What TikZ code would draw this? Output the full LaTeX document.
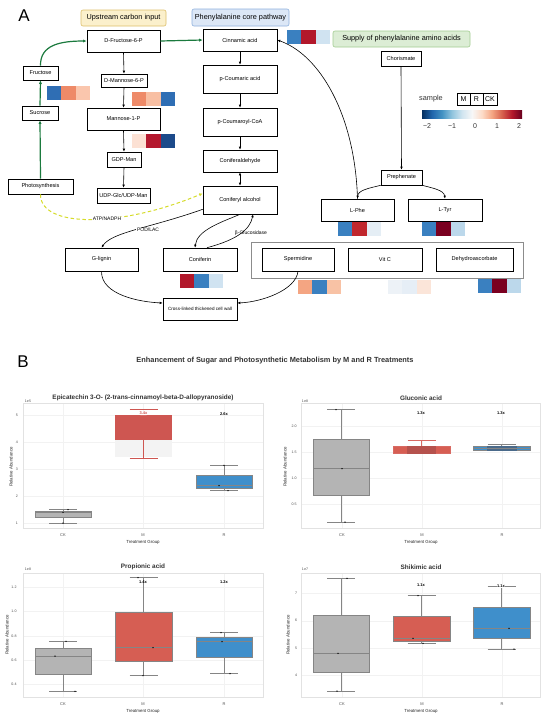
\documentclass[tikz,border=0pt]{standalone}
\usepackage{fontspec}
\setmainfont{Liberation Sans}
\usetikzlibrary{arrows.meta}
\definecolor{yfill}{HTML}{FBF0CC}\definecolor{yline}{HTML}{DDBF6A}
\definecolor{bfill}{HTML}{DCE7F6}\definecolor{bline}{HTML}{8FB1DD}
\definecolor{gfill}{HTML}{DCEDD5}\definecolor{gline}{HTML}{A3CC91}
\definecolor{gr}{HTML}{1B7A3E}\definecolor{yel}{HTML}{D6DC2A}
\definecolor{hA}{HTML}{2F6EB4}\definecolor{hB}{HTML}{EE8A68}\definecolor{hC}{HTML}{FAC6AD}
\definecolor{hD}{HTML}{F8BFA3}\definecolor{hE}{HTML}{FCE1D4}\definecolor{hF}{HTML}{B4182E}
\definecolor{hG}{HTML}{1C4A8A}\definecolor{hH}{HTML}{3A80C0}\definecolor{hI}{HTML}{D0E3F1}
\definecolor{hJ}{HTML}{C0272D}\definecolor{hK}{HTML}{E5EEF5}\definecolor{hL}{HTML}{7A0020}
\definecolor{hM}{HTML}{BCD8EB}\definecolor{hN}{HTML}{F4A582}\definecolor{hO}{HTML}{F8C2A5}
\definecolor{hP}{HTML}{EDF2F7}\definecolor{hQ}{HTML}{E6EEF6}\definecolor{hR}{HTML}{FBE5D9}
\definecolor{cbA}{HTML}{053061}\definecolor{cbB}{HTML}{2166AC}\definecolor{cbC}{HTML}{4393C3}
\definecolor{cbD}{HTML}{92C5DE}\definecolor{cbE}{HTML}{D1E5F0}\definecolor{cbF}{HTML}{F7F7F7}
\definecolor{cbG}{HTML}{FDDBC7}\definecolor{cbH}{HTML}{F4A582}\definecolor{cbI}{HTML}{D6604D}
\definecolor{cbJ}{HTML}{B2182B}\definecolor{cbK}{HTML}{67001F}
\definecolor{bxgray}{HTML}{B4B4B4}\definecolor{bxred}{HTML}{D65E53}\definecolor{bxblue}{HTML}{3F8FCB}
\definecolor{edge}{HTML}{858585}\definecolor{redA}{HTML}{CE5651}\definecolor{lightbx}{HTML}{F3F3F3}
\definecolor{redD}{HTML}{B5524D}\definecolor{blueD}{HTML}{4A6A8A}\definecolor{redE}{HTML}{D86A63}
\definecolor{frm}{HTML}{E2E2E2}\definecolor{grd}{HTML}{F2F2F2}\definecolor{txg}{HTML}{505050}
\pgfdeclarehorizontalshading{rdbu}{100bp}{color(0bp)=(cbA); color(25bp)=(cbA); color(30bp)=(cbB); color(35bp)=(cbC); color(40bp)=(cbD); color(45bp)=(cbE); color(50bp)=(cbF); color(55bp)=(cbG); color(60bp)=(cbH); color(65bp)=(cbI); color(70bp)=(cbJ); color(75bp)=(cbK); color(100bp)=(cbK)}
\newcommand\hmrow[5]{%
  \fill[#3] (#1,#2) rectangle ++(14.3,14);
  \fill[#4] ({#1+14.3},#2) rectangle ++(14.3,14);
  \fill[#5] ({#1+28.6},#2) rectangle ++(14.3,14);}
\newcommand\bxp[9]{%
  \draw[#9, line width=0.6pt] ({(#1+#2)/2},#6) -- ({(#1+#2)/2},#3);
  \draw[#9, line width=0.6pt] ({(#1+#2)/2},#4) -- ({(#1+#2)/2},#7);
  \draw[#9, line width=0.6pt] ({(#1+#2)/2-14},#6) -- ({(#1+#2)/2+14},#6);
  \draw[#9, line width=0.6pt] ({(#1+#2)/2-14},#7) -- ({(#1+#2)/2+14},#7);
  \filldraw[fill=#8, draw=#9, line width=0.6pt] (#1,#3) rectangle (#2,#4);
  \draw[#9, line width=0.6pt] (#1,#5) -- (#2,#5);}
\begin{document}
\begin{tikzpicture}[x=1pt,y=-1pt,
  box/.style={draw, line width=0.6pt, fill=white, inner sep=0pt, font=\fontsize{5.6}{6}\selectfont},
  hdr/.style={draw, line width=0.6pt, rounded corners=2pt, inner sep=0pt, font=\fontsize{7.3}{8}\selectfont},
  arr/.style={-{Latex[length=3pt,width=2.6pt]}, line width=0.6pt},
  garr/.style={-{Latex[length=3.6pt,width=3.2pt]}, line width=1.2pt, draw=gr},
  lbl/.style={font=\fontsize{5}{6}\selectfont, fill=white, inner sep=0.6pt},
  lgbox/.style={draw, line width=0.7pt, inner sep=0pt, minimum height=12pt, font=\fontsize{7}{8}\selectfont},
  frame/.style={draw=frm, line width=0.6pt},
  grid/.style={draw=grd, line width=0.4pt},
  tick/.style={font=\fontsize{3.6}{4}\selectfont, text=txg, inner sep=0.5pt},
  ptitle/.style={font=\bfseries\fontsize{6.4}{7}\selectfont, text=black!80},
  axl/.style={font=\fontsize{4.4}{5}\selectfont, text=black!85},
  fold/.style={font=\bfseries\fontsize{4}{5}\selectfont, inner sep=0.6pt},
  dot/.style={fill=black}]
\useasboundingbox (0,0) rectangle (550,718);
\fill[white] (0,0) rectangle (550,718);

% ---------------- Panel A ----------------
\node[font=\fontsize{17}{17}\selectfont] (labA) at (24,16) {A};
\node[hdr, fill=yfill, draw=yline, minimum width=85pt, minimum height=16pt] (hU) at (123.5,18) {Upstream carbon input};
\node[hdr, fill=bfill, draw=bline, minimum width=97pt, minimum height=17pt] (hP) at (240.5,17.5) {Phenylalanine core pathway};
\node[hdr, fill=gfill, draw=gline, minimum width=137pt, minimum height=16pt] (hS) at (401.5,39) {Supply of phenylalanine amino acids};

\draw[draw=black!45, line width=1pt] (251,242) rectangle (523,278);

\node[box, minimum width=73pt, minimum height=22pt] (f6p) at (123.5,41) {D-Fructose-6-P};
\node[box, minimum width=74pt, minimum height=22pt] (cinn) at (240,40) {Cinnamic acid};
\node[box, minimum width=35pt, minimum height=14pt] (fru) at (40.5,73) {Fructose};
\node[box, minimum width=36pt, minimum height=14pt] (suc) at (40,113) {Sucrose};
\node[box, minimum width=46pt, minimum height=13pt] (m6p) at (124,80.5) {D-Mannose-6-P};
\node[box, minimum width=73pt, minimum height=22pt] (m1p) at (123.5,119) {Mannose-1-P};
\node[box, minimum width=34pt, minimum height=15pt] (gdp) at (124,159.5) {GDP-Man};
\node[box, minimum width=53pt, minimum height=15pt] (udp) at (123.5,195.5) {UDP-Glc/UDP-Man};
\node[box, minimum width=74pt, minimum height=28pt] (pcou) at (240,79) {p-Coumaric acid};
\node[box, minimum width=74pt, minimum height=28pt] (pcoa) at (240,122) {p-Coumaroyl-CoA};
\node[box, minimum width=74pt, minimum height=22pt] (conald) at (240,161) {Coniferaldehyde};
\node[box, minimum width=74pt, minimum height=28pt] (conalc) at (240,200) {Coniferyl alcohol};
\node[box, minimum width=65pt, minimum height=15pt] (photo) at (40.5,186.5) {Photosynthesis};
\node[box, minimum width=73pt, minimum height=23pt] (glig) at (101.5,259.5) {G-lignin};
\node[box, minimum width=74pt, minimum height=23pt] (conin) at (200,259.5) {Coniferin};
\node[box, minimum width=74pt, minimum height=22pt, font=\fontsize{4.6}{5}\selectfont] (wall) at (200,309) {Cross-linked thickened cell wall};
\node[box, minimum width=40pt, minimum height=15pt] (chor) at (401,58.5) {Chorismate};
\node[box, minimum width=41pt, minimum height=15pt] (preph) at (401.5,177.5) {Prephenate};
\node[box, minimum width=73pt, minimum height=22pt] (lphe) at (357.5,210) {L-Phe};
\node[box, minimum width=74pt, minimum height=22pt] (ltyr) at (445,210) {L-Tyr};
\node[box, minimum width=72pt, minimum height=23pt] (sperm) at (298,259.5) {Spermidine};
\node[box, minimum width=74pt, minimum height=23pt] (vitc) at (385,259.5) {Vit C};
\node[box, minimum width=77pt, minimum height=23pt] (dhas) at (474.5,259.5) {Dehydroascorbate};

% green arrows
\draw[garr] (photo.north) -- (suc.south);
\draw[garr] (suc.north) -- (fru.south);
\draw[garr] (fru.north) .. controls (40,45) and (60,41) .. (f6p.west);
\draw[garr] (f6p.east) -- (cinn.west);
% yellow dashed
\draw[draw=yel, line width=1pt, dash pattern=on 3.5pt off 2.5pt, -{Latex[length=3.4pt,width=3pt]}] (photo.south) .. controls (40,228) and (120,228) .. (conalc.170);
\node[lbl] (atp) at (107,219) {ATP/NADPH};
% black arrows
\draw[arr] (f6p.south) -- (m6p.north);
\draw[arr] (m6p.south) -- (m1p.north);
\draw[arr] (m1p.south) -- (gdp.north);
\draw[arr] (gdp.south) -- (udp.north);
\draw[arr] (cinn.south) -- (pcou.north);
\draw[arr] (pcou.south) -- (pcoa.north);
\draw[arr] (pcoa.south) -- (conald.north);
\draw[{Latex[length=3pt,width=2.6pt]}-{Latex[length=3pt,width=2.6pt]}, line width=0.6pt] (conald.south) -- (conalc.north);
\draw[arr] (conalc.194) .. controls (150,228) and (112,232) .. (glig.north);
\node[lbl] (pod) at (148,230) {POD/LAC};
\draw[arr] (conalc.south) .. controls (222,222) and (197,230) .. ([xshift=-5pt]conin.north);
\draw[arr] ([xshift=7pt]conin.north) .. controls (236,240) and (250,230) .. ([xshift=13pt]conalc.south);
\node[lbl, fill=none] (bglu) at (251,233) {β-Glucosidase};
\draw[arr] (glig.south) .. controls (101,295) and (140,302) .. ([yshift=6pt]wall.west);
\draw[arr] (sperm.south) .. controls (296,290) and (262,302) .. ([yshift=6pt]wall.east);
\draw[arr] (chor.south) -- (preph.north);
\draw[arr] (preph.south west) .. controls (370,188) and (358,190) .. (lphe.north);
\draw[arr] (preph.south east) .. controls (432,188) and (444,190) .. (ltyr.north);
\draw[arr] (lphe.north) .. controls (355,115) and (320,55) .. (cinn.east);

% heatmaps
\hmrow{47}{86}{hA}{hB}{hC}
\hmrow{132}{92}{hB}{hD}{hA}
\hmrow{132}{134}{hE}{hF}{hG}
\hmrow{287}{30}{hH}{cbJ}{hI}
\hmrow{180}{274}{cbJ}{hH}{hI}
\hmrow{338}{222}{hH}{hJ}{hK}
\hmrow{422}{222}{hH}{hL}{hM}
\hmrow{298}{280}{hN}{hH}{hO}
\hmrow{388}{280}{hP}{hQ}{hR}
\hmrow{478}{279}{hH}{hL}{hM}

% legend
\node[font=\fontsize{7.3}{8}\selectfont, text=black!80] (smp) at (431,98.5) {sample};
\node[lgbox, minimum width=13pt] (lM) at (463.5,99) {M};
\node[lgbox, minimum width=13pt] (lR) at (476.5,99) {R};
\node[lgbox, minimum width=14pt] (lCK) at (490,99) {CK};
\shade[shading=rdbu] (422,110) rectangle (522,118);
\foreach \v/\xx [count=\i] in {−2/427,−1/452,0/475,1/497,2/519}
  \node[font=\fontsize{7}{8}\selectfont, text=black!80] (cbt\i) at (\xx,126) {\v};

% ---------------- Panel B ----------------
\node[font=\fontsize{17}{17}\selectfont] (labB) at (23,362) {B};
\node[font=\bfseries\fontsize{7.4}{8}\selectfont, text=black!80] (titB) at (275,361) {Enhancement of Sugar and Photosynthetic Metabolism by M and R Treatments};

% Plot 1
\foreach \yy in {415,442,469,496,523} \draw[grid] (23,\yy) -- (263,\yy);
\foreach \xx in {63,143,224} \draw[grid] (\xx,403) -- (\xx,528);
\draw[frame] (23,403) rectangle (263,528);
\node[ptitle] (t1) at (143,398) {Epicatechin 3-O- (2-trans-cinnamoyl-beta-D-allopyranoside)};
\node[tick] (e1) at (28,401) {1e5};
\foreach \v/\yy [count=\i] in {1/523,2/496,3/469,4/442,5/415} \node[tick] (pa\i) at (17,\yy) {\v};
\node[axl, rotate=90] (ya1) at (11,467) {Relative Abundance};
\bxp{35}{91}{510.9}{517.6}{512.3}{509.5}{523}{bxgray}{edge}
\fill[lightbx] (115,440) rectangle (172,457);
\fill[redA] (115,415) rectangle (172,440);
\draw[redA, line width=0.6pt] (143.5,440) -- (143.5,458) (129.5,458) -- (157.5,458) (129.5,409.6) -- (157.5,409.6);
\node[fold, text=redA, fill=white, rounded corners=1.5pt] (f1m) at (143.5,413) {3.4x};
\bxp{196}{252}{475.3}{487.8}{485.5}{465.3}{490.7}{bxblue}{edge}
\node[fold] (f1r) at (224,414) {2.6x};
\fill[dot] (63,523) circle (0.75pt) (63,512.3) circle (0.75pt) (68,509.5) circle (0.75pt);
\fill[dot] (219,485.5) circle (0.75pt) (224,465.3) circle (0.75pt) (228,490.7) circle (0.75pt);
\foreach \c/\xx [count=\i] in {CK/63,M/143,R/224} \node[tick, font=\fontsize{4}{5}\selectfont] (xa\i) at (\xx,535) {\c};
\node[axl] (xl1) at (143,542) {Treatment Group};

% Plot 2
\foreach \yy in {426,452,478,504} \draw[grid] (301,\yy) -- (540,\yy);
\foreach \xx in {342,422,502} \draw[grid] (\xx,403) -- (\xx,528);
\draw[frame] (301,403) rectangle (540,528);
\node[ptitle] (t2) at (421,398) {Gluconic acid};
\node[tick] (e2) at (305,401) {1e8};
\foreach \v/\yy [count=\i] in {0.5/504,1.0/478,1.5/452,2.0/426} \node[tick] (pb\i) at (294,\yy) {\v};
\node[axl, rotate=90] (ya2) at (285,467) {Relative Abundance};
\bxp{313}{369}{439}{495.2}{468.6}{409.4}{522}{bxgray}{edge}
\draw[redE, line width=0.6pt] (421.5,446) -- (421.5,440) (407.5,440) -- (435.5,440);
\filldraw[fill=bxred, draw=redE, line width=0.5pt] (393,446) rectangle (450,453);
\fill[redD] (407,445.5) rectangle (436,454);
\node[fold] (f2m) at (421,413) {1.3x};
\draw[edge, line width=0.6pt] (501.5,446.7) -- (501.5,444.3) (487.5,444.3) -- (515.5,444.3);
\filldraw[fill=bxblue, draw=edge, line width=0.5pt] (473,446.7) rectangle (530,450.3);
\fill[blueD] (487,446) rectangle (517,451);
\draw[edge, line width=0.6pt] (473,448.4) -- (530,448.4);
\node[fold] (f2r) at (501,413) {1.3x};
\fill[dot] (336,409.5) circle (0.75pt) (342,468.6) circle (0.75pt) (345,522) circle (0.75pt);
\foreach \c/\xx [count=\i] in {CK/342,M/422,R/502} \node[tick, font=\fontsize{4}{5}\selectfont] (xb\i) at (\xx,535) {\c};
\node[axl] (xl2) at (421,542) {Treatment Group};

% Plot 3
\foreach \yy in {587.2,611.5,635.8,660.1,684.4} \draw[grid] (23,\yy) -- (263,\yy);
\foreach \xx in {63,143,224} \draw[grid] (\xx,573) -- (\xx,697);
\draw[frame] (23,573) rectangle (263,697);
\node[ptitle] (t3) at (143,567) {Propionic acid};
\node[tick] (e3) at (28,569) {1e8};
\foreach \v/\yy [count=\i] in {0.4/684.4,0.6/660.1,0.8/635.8,1.0/611.5,1.2/587.2} \node[tick] (pc\i) at (14,\yy) {\v};
\node[axl, rotate=90] (ya3) at (7,635) {Relative Abundance};
\bxp{35}{91}{648.3}{674}{656}{641.3}{691.3}{bxgray}{edge}
\bxp{115}{172}{612.7}{661.7}{647.7}{577.7}{675.7}{bxred}{edge}
\bxp{196}{252}{637.3}{657.7}{641.7}{632.7}{673.7}{bxblue}{edge}
\node[fold] (f3m) at (143,582) {1.4x};
\node[fold] (f3r) at (224,582) {1.2x};
\fill[dot] (66,641.3) circle (0.75pt) (55,656) circle (0.75pt) (75,691.3) circle (0.75pt);
\fill[dot] (138,577.7) circle (0.75pt) (153,647.7) circle (0.75pt) (143,675.7) circle (0.75pt);
\fill[dot] (221,632.7) circle (0.75pt) (222,641.7) circle (0.75pt) (230,673.7) circle (0.75pt);
\foreach \c/\xx [count=\i] in {CK/63,M/143,R/224} \node[tick, font=\fontsize{4}{5}\selectfont] (xc\i) at (\xx,704) {\c};
\node[axl] (xl3) at (143,711) {Treatment Group};

% Plot 4
\foreach \yy in {593.3,620.7,648,675.3} \draw[grid] (301,\yy) -- (540,\yy);
\foreach \xx in {342,422,502} \draw[grid] (\xx,573) -- (\xx,697);
\draw[frame] (301,573) rectangle (540,697);
\node[ptitle] (t4) at (421,567) {Shikimic acid};
\node[tick] (e4) at (305,569) {1e7};
\foreach \v/\yy [count=\i] in {4/675.3,5/648,6/620.7,7/593.3} \node[tick] (pd\i) at (296,\yy) {\v};
\node[axl, rotate=90] (ya4) at (288,635) {Relative Abundance};
\bxp{313}{369}{615.7}{672}{653.3}{578.3}{691}{bxgray}{edge}
\bxp{393}{450}{616.7}{641}{638.3}{595.7}{643.3}{bxred}{edge}
\bxp{473}{530}{607.3}{638.7}{628.3}{586}{649}{bxblue}{edge}
\node[fold] (f4m) at (421,585) {1.1x};
\node[fold, fill=white] (f4r) at (501,586) {1.1x};
\fill[dot] (347,578.3) circle (0.75pt) (338,653.3) circle (0.75pt) (337,691) circle (0.75pt);
\fill[dot] (418,595.7) circle (0.75pt) (413,638.3) circle (0.75pt) (423,643.3) circle (0.75pt);
\fill[dot] (509,628.3) circle (0.75pt) (514,649) circle (0.75pt);
\foreach \c/\xx [count=\i] in {CK/342,M/422,R/502} \node[tick, font=\fontsize{4}{5}\selectfont] (xd\i) at (\xx,704) {\c};
\node[axl] (xl4) at (421,711) {Treatment Group};
\end{tikzpicture}
\end{document}
